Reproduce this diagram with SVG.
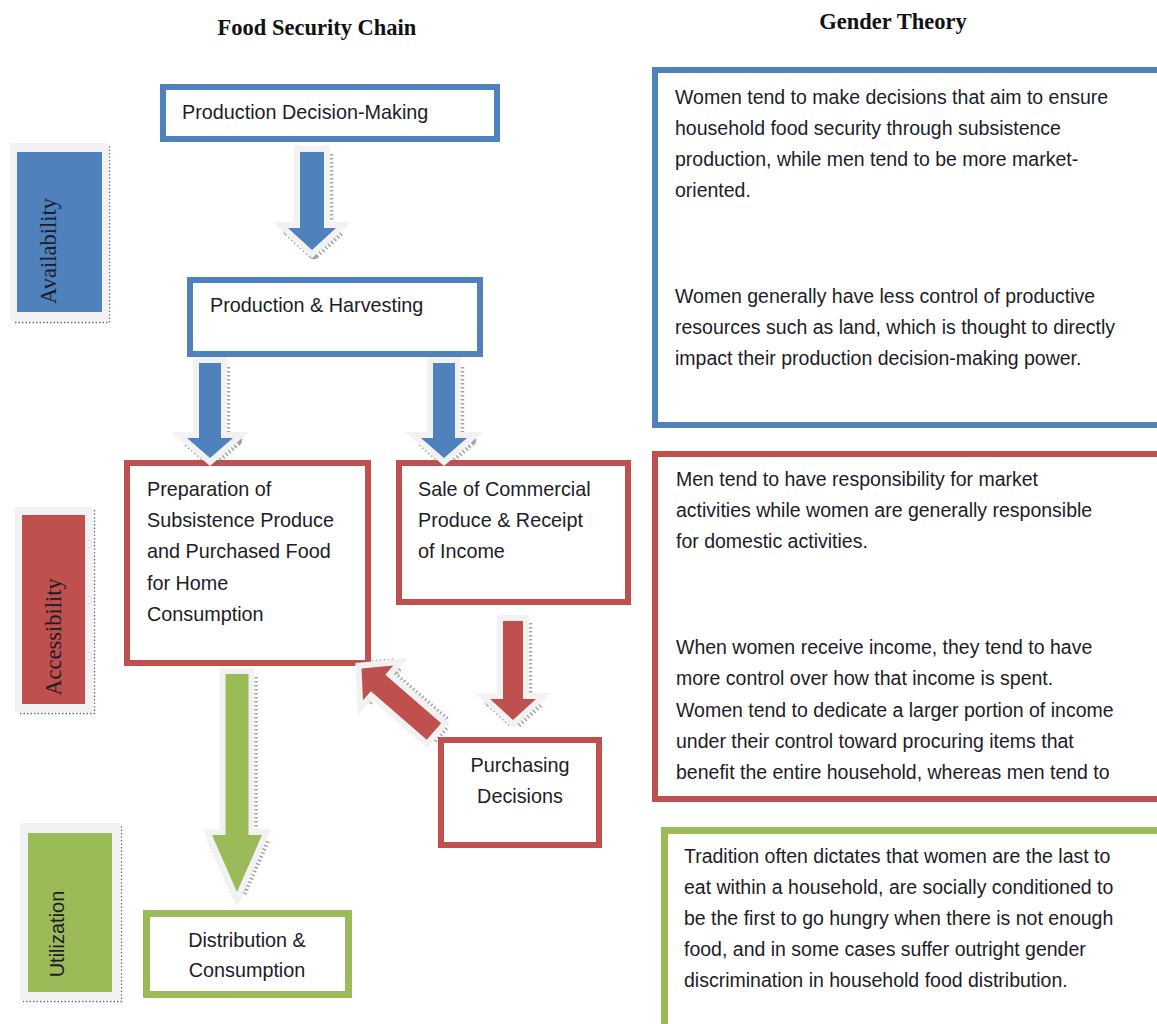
<svg xmlns="http://www.w3.org/2000/svg" width="1157" height="1024" viewBox="0 0 1157 1024">
<style>
.title{font-family:"Liberation Serif",serif;font-weight:bold;font-size:22.5px;fill:#111;}
.t{font-family:"Liberation Sans",Arial,sans-serif;font-size:19.5px;fill:#1c1c28;}
.tl{font-family:"Liberation Sans",Arial,sans-serif;font-size:19.8px;fill:#1c1c28;}
.side{font-family:"Liberation Serif",serif;font-size:22.5px;fill:#1c1c28;}
.sides{font-family:"Liberation Sans",Arial,sans-serif;font-size:20px;fill:#1c1c28;}
.bb{fill:#fff;stroke:#4F81BD;stroke-width:6;}
.rb{fill:#fff;stroke:#C0504D;stroke-width:6;}
.gb{fill:#fff;stroke:#9BBB59;stroke-width:7;}
.frame{fill:#f2f2f2;}
.fshadow{fill:none;stroke:#6a6a6a;stroke-width:1.3;stroke-dasharray:1.5 2;}
.ablue{fill:#4F81BD;}
.ared{fill:#C0504D;}
.agreen{fill:#9BBB59;}
.aout{stroke:#f2f2f2;stroke-width:12;stroke-linejoin:miter;stroke-miterlimit:10;paint-order:stroke;}
.ash{fill:none;stroke:#666;stroke-width:14.5;stroke-dasharray:1.5 2.5;stroke-linejoin:round;opacity:0.6;}
</style>

<text class="title" x="317" y="35" text-anchor="middle">Food Security Chain</text>
<text class="title" x="893" y="29" text-anchor="middle">Gender Theory</text>

<g id="availability">
<path class="fshadow" d="M109.5 146 V322.5 H13"/>
<rect class="frame" x="10" y="143" width="98" height="178"/>
<rect x="17" y="152" width="85" height="160" fill="#4F81BD"/>
<text class="side" transform="translate(56 251) rotate(-90)" text-anchor="middle">Availability</text>
</g>
<g id="accessibility">
<path class="fshadow" d="M94.5 510 V713.5 H18"/>
<rect class="frame" x="15" y="507" width="78" height="205"/>
<rect x="22" y="515" width="63" height="189" fill="#C0504D"/>
<text class="side" transform="translate(61 637) rotate(-90)" text-anchor="middle">Accessibility</text>
</g>
<g id="utilization">
<path class="fshadow" d="M121.5 826 V1001.5 H23"/>
<rect class="frame" x="20" y="823" width="100" height="177"/>
<rect x="28" y="833" width="84" height="159" fill="#9BBB59"/>
<text class="sides" transform="translate(64 934) rotate(-90)" text-anchor="middle">Utilization</text>
</g>

<g id="n-pdm">
<rect class="bb" x="163" y="87" width="334" height="52"/>
<text class="tl" x="182" y="119">Production Decision-Making</text>
</g>
<g id="n-ph">
<rect class="bb" x="190" y="280" width="290" height="74"/>
<text class="tl" x="210" y="312">Production &amp; Harvesting</text>
</g>
<g id="n-prep">
<rect class="rb" x="127" y="463" width="241" height="200"/>
<text class="tl" x="147" y="496">Preparation of</text>
<text class="tl" x="147" y="527">Subsistence Produce</text>
<text class="tl" x="147" y="558">and Purchased Food</text>
<text class="tl" x="147" y="590">for Home</text>
<text class="tl" x="147" y="621">Consumption</text>
</g>
<g id="n-sale">
<rect class="rb" x="399" y="463" width="229" height="139"/>
<text class="tl" x="418" y="496">Sale of Commercial</text>
<text class="tl" x="418" y="527">Produce &amp; Receipt</text>
<text class="tl" x="418" y="558">of Income</text>
</g>
<g id="n-purch">
<rect class="rb" x="441" y="740" width="158" height="105"/>
<text class="tl" x="520" y="772" text-anchor="middle">Purchasing</text>
<text class="tl" x="520" y="803" text-anchor="middle">Decisions</text>
</g>
<g id="n-dist">
<rect class="gb" x="146.5" y="913.5" width="202" height="81"/>
<text class="tl" x="247" y="947" text-anchor="middle">Distribution &amp;</text>
<text class="tl" x="247" y="977" text-anchor="middle">Consumption</text>
</g>

<g id="g-blue">
<rect class="bb" x="655" y="70" width="520" height="355"/>
<text class="t" x="675" y="104">Women tend to make decisions that aim to ensure</text>
<text class="t" x="675" y="135">household food security through subsistence</text>
<text class="t" x="675" y="166">production, while men tend to be more market-</text>
<text class="t" x="675" y="197">oriented.</text>
<text class="t" x="675" y="303">Women generally have less control of productive</text>
<text class="t" x="675" y="334">resources such as land, which is thought to directly</text>
<text class="t" x="675" y="365">impact their production decision-making power.</text>
</g>
<g id="g-red">
<rect class="rb" x="655" y="454" width="520" height="345"/>
<text class="t" x="676" y="486">Men tend to have responsibility for market</text>
<text class="t" x="676" y="517">activities while women are generally responsible</text>
<text class="t" x="676" y="548">for domestic activities.</text>
<text class="t" x="676" y="654">When women receive income, they tend to have</text>
<text class="t" x="676" y="685">more control over how that income is spent.</text>
<text class="t" x="676" y="717">Women tend to dedicate a larger portion of income</text>
<text class="t" x="676" y="748">under their control toward procuring items that</text>
<text class="t" x="676" y="779">benefit the entire household, whereas men tend to</text>
</g>
<g id="g-green">
<rect class="gb" x="664.5" y="830.5" width="520" height="220"/>
<text class="t" x="684" y="863">Tradition often dictates that women are the last to</text>
<text class="t" x="684" y="894">eat within a household, are socially conditioned to</text>
<text class="t" x="684" y="925">be the first to go hungry when there is not enough</text>
<text class="t" x="684" y="956">food, and in some cases suffer outright gender</text>
<text class="t" x="684" y="987">discrimination in household food distribution.</text>
</g>

<g id="connectors">
<g id="a-pdm-ph">
<polygon class="ash" transform="translate(2 2)" points="300,152 324,152 324,228 336,228 312,250 288,228 300,228"/>
<polygon class="ablue aout" points="300,152 324,152 324,228 336,228 312,250 288,228 300,228"/>
</g>
<g id="a-ph-prep">
<polygon class="ash" transform="translate(2 2)" points="199,363 221,363 221,438 233,438 210,458 187,438 199,438"/>
<polygon class="ablue aout" points="199,363 221,363 221,438 233,438 210,458 187,438 199,438"/>
</g>
<g id="a-ph-sale">
<polygon class="ash" transform="translate(2 2)" points="433,363 455,363 455,438 467,438 444,458 421,438 433,438"/>
<polygon class="ablue aout" points="433,363 455,363 455,438 467,438 444,458 421,438 433,438"/>
</g>
<g id="a-sale-purch">
<polygon class="ash" transform="translate(2 2)" points="503,621 523,621 523,699 536,699 513,720 490,699 503,699"/>
<polygon class="ared aout" points="503,621 523,621 523,699 536,699 513,720 490,699 503,699"/>
</g>
<g id="a-purch-prep" transform="translate(361.5 668.5) rotate(-49)">
<polygon class="ash" transform="translate(2 2)" points="0,0 23,22 11,22 11,96 -11,96 -11,22 -23,22"/>
<polygon class="ared aout" points="0,0 23,22 11,22 11,96 -11,96 -11,22 -23,22"/>
</g>
<g id="a-prep-dist">
<polygon class="ash" transform="translate(2 2)" points="225.5,674 248.5,674 248.5,835 262,835 237,892 212,835 225.5,835"/>
<polygon class="agreen aout" points="225.5,674 248.5,674 248.5,835 262,835 237,892 212,835 225.5,835"/>
</g>
</g>
</svg>
